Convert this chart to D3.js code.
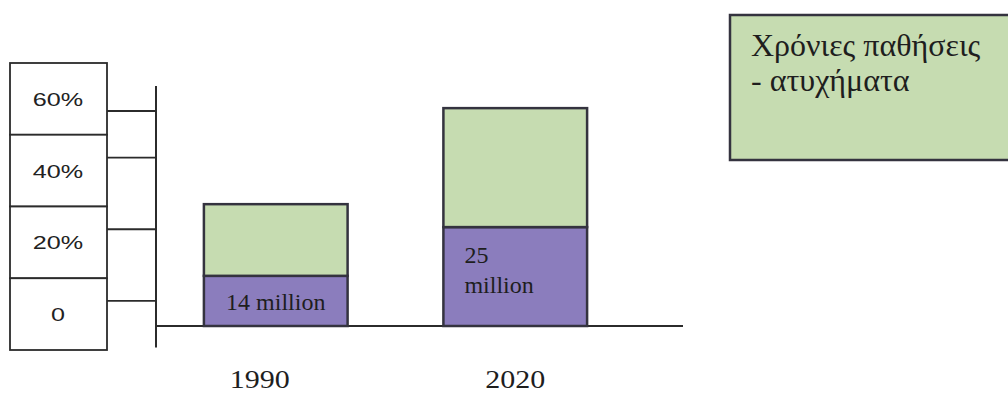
<!DOCTYPE html>
<html>
<head>
<meta charset="utf-8">
<script src="https://cdn.jsdelivr.net/npm/d3@7"></script>
<style>
  body { margin: 0; background: #fff; }
  svg { display: block; }
  .box-label { font-family: "Liberation Sans", Arial, sans-serif; font-size: 18px; fill: #222; }
  .serif { font-family: "Liberation Serif", "Times New Roman", serif; fill: #1e1e1e; }
</style>
</head>
<body>
<div id="chart"></div>
<script>
(function() {

// data
let years = ["1990", "2020"];
let lowerVals = [14, 27.6];      // purple part
let upperVals = [20, 33.2];      // green part (Χρόνιες παθήσεις - ατυχήματα)
let barLabels = [["14 million"], ["25", "million"]];
let tickLabels = ["60%", "40%", "20%", "0"];
let tickVals = [60, 47, 27, 7];
let legendLines = ["Χρόνιες παθήσεις", "- ατυχήματα"];

let width = 1008, height = 395;
let green = "#c6dcb1", purple = "#8b7dbd", ink = "#34333f";

let svg = d3.select("#chart").append("svg")
    .attr("width", width)
    .attr("height", height);

let yScale = d3.scaleLinear().domain([0, 60]).range([326, 111]);
let xScale = d3.scaleBand().domain(years).range([156, 635])
    .paddingInner(0.4).paddingOuter(0.2);
let boxScale = d3.scaleBand().domain(tickLabels).range([63, 350]);

// label boxes on the left
let boxes = svg.append("g");
boxes.selectAll("rect")
    .data(tickLabels)
  .enter().append("rect")
    .attr("x", 10)
    .attr("y", (d) => boxScale(d))
    .attr("width", 97)
    .attr("height", boxScale.bandwidth())
    .attr("fill", "#fff")
    .attr("stroke", "#2b2b2b")
    .attr("stroke-width", 1.8);

// text is a bit wider in the original, so scale it in x
boxes.selectAll("text")
    .data(tickLabels)
  .enter().append("text")
    .attr("class", "box-label")
    .attr("transform", (d) => "translate(58," + (boxScale(d) + boxScale.bandwidth() / 2 + 7) + ") scale(1.4,1)")
    .attr("text-anchor", "middle")
    .text((d) => d);

// tick connectors
svg.append("g").selectAll("line")
    .data(tickVals)
  .enter().append("line")
    .attr("x1", 107).attr("x2", 156)
    .attr("y1", (d) => yScale(d)).attr("y2", (d) => yScale(d))
    .attr("stroke", "#2b2b2b")
    .attr("stroke-width", 1.8);

// axes
svg.append("line")
    .attr("x1", 156).attr("x2", 156)
    .attr("y1", yScale(67)).attr("y2", yScale(-6))
    .attr("stroke", "#2b2b2b").attr("stroke-width", 2);

svg.append("line")
    .attr("x1", 156).attr("x2", 683)
    .attr("y1", yScale(0)).attr("y2", yScale(0))
    .attr("stroke", "#2b2b2b").attr("stroke-width", 2);

// stacked bars
let rows = years.map((y, i) => ({year: y, lower: lowerVals[i], upper: upperVals[i]}));
let stack = d3.stack().keys(["lower", "upper"])(rows);
let colors = {lower: purple, upper: green};

svg.append("g").selectAll("g")
    .data(stack)
  .enter().append("g")
    .attr("fill", (d) => colors[d.key])
  .selectAll("rect")
    .data((d) => d)
  .enter().append("rect")
    .attr("x", (d) => xScale(d.data.year))
    .attr("y", (d) => yScale(d[1]))
    .attr("width", xScale.bandwidth())
    .attr("height", (d) => yScale(d[0]) - yScale(d[1]))
    .attr("stroke", ink)
    .attr("stroke-width", 2.5);

// labels inside purple part
svg.append("text")
    .attr("class", "serif")
    .attr("x", xScale(years[0]) + xScale.bandwidth() / 2)
    .attr("y", yScale(lowerVals[0] / 2) + 9)
    .attr("text-anchor", "middle")
    .style("font-size", "24px")
    .text(barLabels[0][0]);

svg.append("text")
    .attr("class", "serif")
    .attr("x", xScale(years[1]) + 21)
    .attr("y", yScale(lowerVals[1]) + 36)
    .style("font-size", "24px")
    .selectAll("tspan")
    .data(barLabels[1])
  .enter().append("tspan")
    .attr("x", xScale(years[1]) + 21)
    .attr("dy", (d, i) => i ? 30 : 0)
    .text((d) => d);

// year labels
svg.append("g").selectAll("text")
    .data(years)
  .enter().append("text")
    .attr("class", "serif")
    .attr("transform", (d, i) => "translate(" + (xScale(d) + xScale.bandwidth() / 2 + (i ? 0 : -16)) + ",388) scale(1.2,1)")
    .attr("text-anchor", "middle")
    .style("font-size", "25px")
    .text((d) => d);

// legend box
let legend = svg.append("g");
legend.append("rect")
    .attr("x", 730).attr("y", 15)
    .attr("width", 290).attr("height", 145)
    .attr("fill", green)
    .attr("stroke", ink)
    .attr("stroke-width", 2.5);

legend.selectAll("text")
    .data(legendLines)
  .enter().append("text")
    .attr("class", "serif")
    .attr("x", 751)
    .attr("y", (d, i) => 56 + i * 35)
    .style("font-size", "32px")
    .text((d) => d);

})();
</script>
</body>
</html>
